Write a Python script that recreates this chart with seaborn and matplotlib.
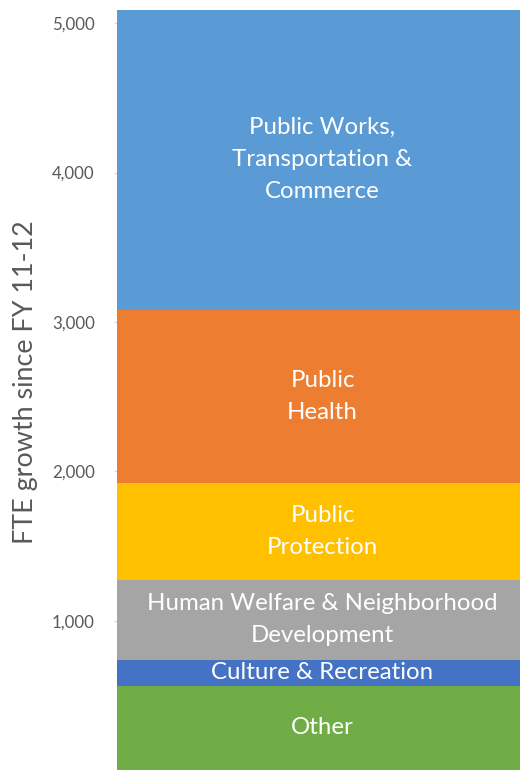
import matplotlib.pyplot as plt
import numpy as np
import pandas as pd
import seaborn as sns

categories = ["Other", "Culture & Recreation",
              "Human Welfare & Neighborhood\nDevelopment",
              "Public\nProtection", "Public\nHealth",
              "Public Works,\nTransportation &\nCommerce"]
growth = [563, 175, 533, 648, 1163, 2006]
colors = ["#70AD47", "#4472C4", "#A5A5A5", "#FFC000", "#ED7D31", "#5B9BD5"]
yticks = [1000, 2000, 3000, 4000, 5000]


def main():
    sns.set_theme(style="white")
    plt.rcParams['font.family'] = ['Lato', 'DejaVu Sans']

    df = pd.DataFrame({"category": categories, "growth": growth})
    df['top'] = df.growth.cumsum()
    df['mid'] = df['top'] - df.growth / 2
    df['group'] = "all"

    fig = plt.figure(figsize=(5.2, 7.7), dpi=100)
    ax = fig.add_axes([0.225, 0.0, 0.775, 1 - 10 / 770])

    # draw cumulative bars from the largest down so they look stacked
    for i in reversed(range(len(df))):
        sns.barplot(x="group", y="top", data=df.iloc[[i]], color=colors[i],
                    width=1.0, saturation=1, ax=ax, linewidth=0)

    for _, row in df.iterrows():
        ax.text(0.01, row['mid'], row['category'], ha='center', va='center',
                color='white', fontsize=17.3, linespacing=1.65)

    ax.set_xlim(-0.5, 0.5)
    ax.set_ylim(0, df['top'].iloc[-1])
    ax.set_yticks(yticks)
    ax.set_yticklabels([f"{v:,}" for v in yticks])
    ax.set_xticks([])
    ax.set_xlabel("")
    ax.set_ylabel("FTE growth since FY 11-12", fontsize=19.4,
                  color="#595959")
    ax.yaxis.set_label_coords(-0.195, 0.51)
    ax.tick_params(axis='y', left=True, length=2, width=1, color="#D9D9D9",
                   pad=14, labelsize=12.2, labelcolor="#595959")
    sns.despine(ax=ax, left=True, bottom=True)

    plt.savefig('out.png', dpi=100)
    plt.close()


if __name__ == '__main__':
    main()
